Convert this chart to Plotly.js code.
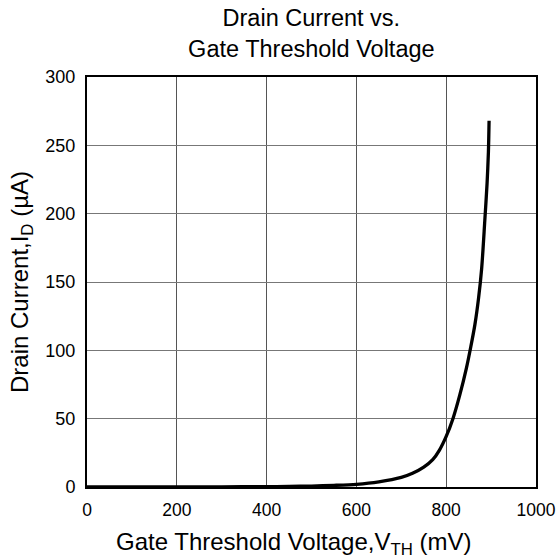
<!DOCTYPE html>
<html>
<head>
<meta charset="utf-8">
<script src="https://cdn.plot.ly/plotly-3.0.1.min.js"></script>
<style>html,body{margin:0;padding:0;background:#fff}#chart{width:558px;height:558px}</style>
</head>
<body>
<div id="chart"></div>
<script>
const vthMv = [0, 100, 200, 300, 400, 450, 500, 550, 600, 650, 700, 725, 750, 770, 785, 800, 815, 830, 845, 855, 864, 872, 879, 886, 891, 894, 895.5];
const idUa  = [0.05, 0.08, 0.1, 0.15, 0.25, 0.4, 0.7, 1.2, 2, 3.8, 7, 10, 14.5, 20, 27, 37, 50, 67, 87, 103, 119, 138, 160, 195, 222, 245, 268];
const xTicks = [0, 200, 400, 600, 800, 1000];
const yTicks = [0, 50, 100, 150, 200, 250, 300];

const font = "Liberation Sans, Arial, sans-serif";
Plotly.newPlot('chart', [{
  x: vthMv, y: idUa, type: 'scatter', mode: 'lines',
  line: {color: '#000', width: 3.3, shape: 'spline', smoothing: 0.8},
  hoverinfo: 'skip'
}], {
  width: 558, height: 558,
  margin: {l: 87, r: 22, t: 77, b: 71},
  paper_bgcolor: '#fff', plot_bgcolor: '#fff',
  showlegend: false,
  font: {family: font, color: '#000'},
  title: {text: 'Drain Current vs.<br>Gate Threshold Voltage', font: {size: 23.5, family: font, color: '#000'},
          x: 0.558, xanchor: 'center', yref: 'container', y: 0.953, yanchor: 'middle'},
  annotations: [{text: 'Gate Threshold Voltage,V<sub>TH</sub> (mV)', xref: 'paper', yref: 'paper',
                 x: 0.461, y: -0.139, xanchor: 'center', yanchor: 'middle', showarrow: false,
                 font: {size: 24, family: font, color: '#000'}}],
  xaxis: {range: [0, 1000], tickvals: xTicks, ticktext: xTicks.map(String),
          showgrid: true, gridcolor: '#555', gridwidth: 1, zeroline: false,
          showline: true, linecolor: '#000', linewidth: 2, mirror: true,
          ticks: '', ticklabelstandoff: 6, tickfont: {size: 17.5, family: font, color: '#000'}},
  yaxis: {range: [0, 300], tickvals: yTicks, ticktext: yTicks.map(String),
          showgrid: true, gridcolor: '#777', gridwidth: 1, zeroline: false,
          showline: true, linecolor: '#000', linewidth: 2, mirror: true,
          ticks: '', ticklabelstandoff: 6, tickfont: {size: 18, family: font, color: '#000'},
          title: {text: 'Drain Current,I<sub>D</sub> (µA)', font: {size: 24, family: font, color: '#000'}, standoff: 10}}
}, {displayModeBar: false, staticPlot: true});
</script>
</body>
</html>
